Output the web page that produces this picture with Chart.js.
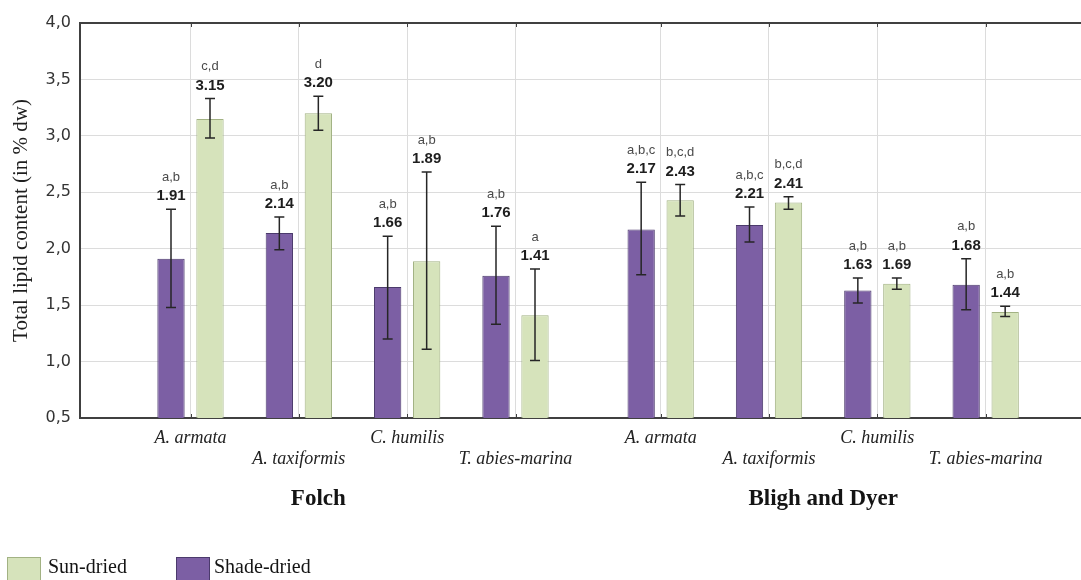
<!DOCTYPE html>
<html>
<head>
<meta charset="utf-8">
<script src="https://cdn.jsdelivr.net/npm/chart.js@4.4.1/dist/chart.umd.min.js"></script>
<style>
  html, body { margin: 0; padding: 0; background: #fff; }
  canvas { display: block; }
</style>
</head>
<body>
<canvas id="lipidChart" width="1081" height="580"></canvas>
<script>
// Species analysed with each extraction method
const species = ['A. armata', 'A. taxiformis', 'C. humilis', 'T. abies-marina'];
const methods = ['Folch', 'Bligh and Dyer'];

// Mean total lipid content (% dw)
const shadeFolch = [1.91, 2.14, 1.66, 1.76];
const sunFolch   = [3.15, 3.20, 1.89, 1.41];
const shadeBD    = [2.17, 2.21, 1.63, 1.68];
const sunBD      = [2.43, 2.41, 1.69, 1.44];

// Error bar limits (lower / upper)
const shadeFolchLo = [1.48, 1.99, 1.20, 1.33];
const shadeFolchHi = [2.35, 2.28, 2.11, 2.20];
const sunFolchLo   = [2.98, 3.05, 1.11, 1.01];
const sunFolchHi   = [3.33, 3.35, 2.68, 1.82];
const shadeBDLo    = [1.77, 2.06, 1.52, 1.46];
const shadeBDHi    = [2.59, 2.37, 1.74, 1.91];
const sunBDLo      = [2.29, 2.35, 1.64, 1.40];
const sunBDHi      = [2.57, 2.46, 1.74, 1.49];

// Significance letters
const shadeFolchSig = ['a,b', 'a,b', 'a,b', 'a,b'];
const sunFolchSig   = ['c,d', 'd', 'a,b', 'a'];
const shadeBDSig    = ['a,b,c', 'a,b,c', 'a,b', 'a,b'];
const sunBDSig      = ['b,c,d', 'b,c,d', 'a,b', 'a,b'];

// Y axis ticks
const yTicks = [0.5, 1.0, 1.5, 2.0, 2.5, 3.0, 3.5, 4.0];

// Layout of the x axis: species slots, with a wider gap between the two methods
const GROUP_GAP = 0.34;
const slotOf = (g, i) => 1 + g * (species.length + GROUP_GAP) + i;
const slots = [];
const slotNames = [];
methods.forEach((m, g) => species.forEach((s, i) => { slots.push(slotOf(g, i)); slotNames.push(s); }));

const toPoints = (a, b) => a.concat(b).map((v, k) => ({ x: slots[k], y: v }));

const PURPLE = '#7c5fa4';
const PURPLE_EDGE = '#4b3a6c';
const GREEN = '#d6e3bb';
const GREEN_EDGE = '#a2b283';

const datasets = [
  {
    label: 'Shade-dried',
    data: toPoints(shadeFolch, shadeBD),
    lo: shadeFolchLo.concat(shadeBDLo),
    hi: shadeFolchHi.concat(shadeBDHi),
    sig: shadeFolchSig.concat(shadeBDSig),
    backgroundColor: PURPLE,
    borderColor: PURPLE_EDGE,
    borderWidth: 1
  },
  {
    label: 'Sun-dried',
    data: toPoints(sunFolch, sunBD),
    lo: sunFolchLo.concat(sunBDLo),
    hi: sunFolchHi.concat(sunBDHi),
    sig: sunFolchSig.concat(sunBDSig),
    backgroundColor: GREEN,
    borderColor: GREEN_EDGE,
    borderWidth: 1
  }
];

const SERIF = '"Liberation Serif", "Times New Roman", serif';
const SANS = '"Liberation Sans", Arial, sans-serif';

// Dark frame line along the top of the plot
const topFrame = {
  id: 'topFrame',
  beforeDatasetsDraw(chart) {
    const { ctx, chartArea: a } = chart;
    ctx.save();
    ctx.strokeStyle = '#404040';
    ctx.lineWidth = 2;
    ctx.beginPath();
    ctx.moveTo(a.left, a.top);
    ctx.lineTo(a.right, a.top);
    ctx.stroke();
    // small tick marks at the species positions
    ctx.lineWidth = 1;
    const xs = chart.scales.x;
    slots.forEach(v => {
      const px = Math.round(xs.getPixelForValue(v)) + 0.5;
      ctx.beginPath(); ctx.moveTo(px, a.top); ctx.lineTo(px, a.top + 4); ctx.stroke();
      ctx.beginPath(); ctx.moveTo(px, a.bottom); ctx.lineTo(px, a.bottom - 4); ctx.stroke();
    });
    ctx.restore();
  }
};

// Error bars plus value and letter labels above each bar
const barAnnotations = {
  id: 'barAnnotations',
  afterDatasetsDraw(chart) {
    const { ctx } = chart;
    const ys = chart.scales.y;
    chart.data.datasets.forEach((ds, d) => {
      const meta = chart.getDatasetMeta(d);
      meta.data.forEach((bar, i) => {
        const x = bar.x;
        const yLo = ys.getPixelForValue(ds.lo[i]);
        const yHi = ys.getPixelForValue(ds.hi[i]);
        ctx.save();
        ctx.strokeStyle = '#262626';
        ctx.lineWidth = 1.5;
        ctx.beginPath();
        ctx.moveTo(x, yLo); ctx.lineTo(x, yHi);
        ctx.moveTo(x - 5, yLo); ctx.lineTo(x + 5, yLo);
        ctx.moveTo(x - 5, yHi); ctx.lineTo(x + 5, yHi);
        ctx.stroke();

        ctx.textAlign = 'center';
        ctx.textBaseline = 'middle';
        ctx.fillStyle = '#1e1e1e';
        ctx.font = 'bold 15px ' + SANS;
        ctx.fillText(ds.data[i].y.toFixed(2), x, yHi - 13);
        ctx.fillStyle = '#4a4a4a';
        ctx.font = '13px ' + SANS;
        ctx.fillText(ds.sig[i], x, yHi - 32);
        ctx.restore();
      });
    });
  }
};

// Method names under each group and the legend at the bottom
const captions = {
  id: 'captions',
  afterDraw(chart) {
    const { ctx } = chart;
    const xs = chart.scales.x;
    ctx.save();
    ctx.fillStyle = '#141414';
    ctx.font = 'bold 23px ' + SERIF;
    ctx.textAlign = 'center';
    ctx.textBaseline = 'middle';
    const centers = [2.18, 6.84];
    methods.forEach((m, g) => ctx.fillText(m, xs.getPixelForValue(centers[g]), 499));

    // legend, sun-dried first
    const items = chart.data.datasets.slice().reverse();
    const boxX = [7, 176];
    const textX = [48, 214];
    ctx.font = '20px ' + SERIF;
    ctx.textAlign = 'left';
    items.forEach((ds, k) => {
      ctx.fillStyle = ds.backgroundColor;
      ctx.fillRect(boxX[k], 557, 34, 24);
      ctx.strokeStyle = ds.borderColor;
      ctx.lineWidth = 1;
      ctx.strokeRect(boxX[k] + 0.5, 557.5, 33, 24);
      ctx.fillStyle = '#141414';
      ctx.fillText(ds.label, textX[k], 568);
    });
    ctx.restore();
  }
};

new Chart(document.getElementById('lipidChart'), {
  type: 'bar',
  data: { datasets },
  options: {
    responsive: false,
    devicePixelRatio: 1,
    animation: false,
    layout: { padding: { top: 23, right: 0, left: 0, bottom: 0 } },
    datasets: { bar: { categoryPercentage: 0.72, barPercentage: 0.7 } },
    plugins: {
      legend: { display: false },
      tooltip: { enabled: false }
    },
    scales: {
      x: {
        type: 'linear',
        offset: false,
        min: -0.02,
        max: 9.22,
        afterBuildTicks: s => { s.ticks = slots.map(v => ({ value: v })); },
        afterFit: s => { s.height = 162; },
        grid: { color: '#dcdcdc', lineWidth: 1, drawTicks: false, offset: false },
        border: { color: '#404040', width: 2 },
        ticks: {
          autoSkip: false,
          maxRotation: 0,
          padding: 9,
          color: '#222',
          font: { family: SERIF, size: 18, style: 'italic' },
          callback: (v, i) => (i % 2 ? ['', slotNames[i]] : slotNames[i])
        }
      },
      y: {
        min: yTicks[0],
        max: yTicks[yTicks.length - 1],
        afterBuildTicks: s => { s.ticks = yTicks.map(v => ({ value: v })); },
        afterFit: s => { s.width = 80; },
        grid: { color: '#dcdcdc', lineWidth: 1, drawTicks: false },
        border: { color: '#404040', width: 2 },
        ticks: {
          padding: 9,
          color: '#333',
          font: { family: '"DejaVu Sans", sans-serif', size: 16 },
          callback: v => v.toFixed(1).replace('.', ',')
        },
        title: {
          display: true,
          text: 'Total lipid content (in % dw)',
          color: '#1e1e1e',
          font: { family: SERIF, size: 21 },
          padding: { top: 9, bottom: 0 }
        }
      }
    }
  },
  plugins: [topFrame, barAnnotations, captions]
});
</script>
</body>
</html>
